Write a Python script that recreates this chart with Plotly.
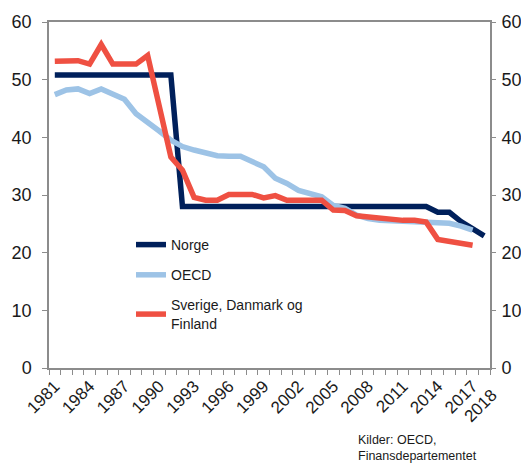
import plotly.graph_objects as go

years = list(range(1981, 2019))

norge = [50.8] * 11 + [28.0] * 22 + [27.0, 27.0, 25.4, 24.2, 22.9]

oecd = [47.4, 48.2, 48.4, 47.6, 48.4, 47.4, 46.6, 44.1, 42.7, 41.1,
        39.5, 38.4, 37.8, 37.3, 36.8, 36.7, 36.7, 35.8, 34.9, 32.9,
        32.0, 30.8, 30.3, 29.7, 28.2, 27.7, 26.5, 25.9, 25.6, 25.5,
        25.5, 25.5, 25.4, 25.2, 25.1, 24.6, 23.9, None]

nordic = [53.2, 53.3, 53.3, 52.7, 56.1, 52.7, 52.7, 52.7, 54.2, 45.4,
          36.6, 34.3, 29.6, 29.1, 29.1, 30.1, 30.1, 30.1, 29.5, 29.9,
          29.1, 29.1, 29.1, 29.1, 27.4, 27.3, 26.4, 26.2, 25.8, 25.6,
          25.6, 25.6, 25.3, 22.3, 21.9, 21.5, 21.3, None]

tick_years = [1981, 1984, 1987, 1990, 1993, 1996, 1999, 2002, 2005, 2008,
              2011, 2014, 2017]
last_year_label = 2018
y_ticks = [0, 10, 20, 30, 40, 50, 60]

names = ["Norge", "OECD", "Sverige, Danmark og<br>Finland"]
colors = ["#00205B", "#9DC3E6", "#EF5042"]
series = [norge, oecd, nordic]

fig = go.Figure()
for i, (nm, col, s) in enumerate(zip(names, colors, series)):
    fig.add_trace(go.Scatter(
        x=years, y=s, mode="lines", name=nm,
        line=dict(color=col, width=5.5),
        legendgroup=f"g{i}",
    ))
# invisible trace for right axis
fig.add_trace(go.Scatter(x=[years[0]], y=[0], yaxis="y2", mode="lines",
                         line=dict(width=0), showlegend=False, hoverinfo="skip"))

font_family = "Liberation Sans, Arial, sans-serif"
axis_col = "#8c8c8c"
txt_col = "#1a1a1a"

# page body has an 8px margin; compensate so the figure lands on screen
OFF = 8
W, H = 529 - OFF, 464 - OFF
L, T = 49 - OFF, 22 - OFF
R = W - (490 - OFF)
B = H - (368 - OFF)
pw, ph = W - L - R, H - T - B

fig.update_layout(
    width=W, height=H,
    margin=dict(l=L, r=R, t=T, b=B, autoexpand=False),
    paper_bgcolor="white", plot_bgcolor="white",
    font=dict(family=font_family, color=txt_col, size=17),
    showlegend=True,
    legend=dict(
        x=(131 - 49) / pw, y=(368 - 229) / ph, xanchor="left", yanchor="top",
        bgcolor="rgba(0,0,0,0)", font=dict(size=14, color=txt_col),
        itemwidth=30, tracegroupgap=9, traceorder="grouped",
    ),
    xaxis=dict(
        range=[1980.5, 2018.5], tickmode="array", tickvals=tick_years,
        ticktext=[str(t) for t in tick_years], tickangle=-45,
        ticks="outside", ticklen=0, tickcolor="rgba(0,0,0,0)",
        showline=True, linecolor=axis_col, linewidth=1.5, mirror=True,
        showgrid=False, zeroline=False, automargin=False,
        tickfont=dict(size=17),
        minor=dict(tickmode="array", tickvals=[y - 0.5 for y in range(1981, 2020)],
                   ticks="outside", ticklen=5, tickcolor=axis_col, tickwidth=1,
                   showgrid=False),
    ),
    yaxis=dict(
        range=[0, 60], tickvals=y_ticks, ticks="outside", ticklen=5,
        tickcolor=axis_col, showline=True, linecolor=axis_col, linewidth=1.5,
        mirror=True, showgrid=False, zeroline=False, tickfont=dict(size=18),
        automargin=False, ticklabelstandoff=7,
    ),
    yaxis2=dict(
        range=[0, 60], tickvals=y_ticks, ticks="outside", ticklen=5,
        tickcolor=axis_col, overlaying="y", side="right", showline=False,
        showgrid=False, zeroline=False, tickfont=dict(size=18),
        automargin=False, ticklabelstandoff=2,
    ),
    annotations=[
        dict(
            text="Kilder: OECD,<br>Finansdepartementet",
            x=(356 - 49) / pw, y=(368 - 448) / ph,
            xref="paper", yref="paper", showarrow=False, align="left",
            xanchor="left", yanchor="middle", font=dict(size=12.5, color=txt_col),
        ),
        dict(
            text=str(last_year_label), x=last_year_label, xref="x",
            y=(368 - 383) / ph, yref="paper", showarrow=False, textangle=-45,
            xanchor="right", yanchor="top", xshift=20,
            font=dict(size=17, color=txt_col),
        ),
    ],
)

fig.write_html("out.html")
